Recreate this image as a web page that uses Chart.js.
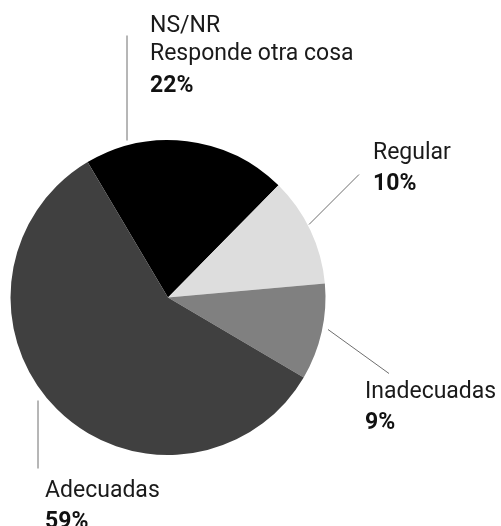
<!DOCTYPE html>
<html>
<head>
<meta charset="utf-8">
<script src="https://cdn.jsdelivr.net/npm/chart.js@4/dist/chart.umd.min.js"></script>
<style>
  html, body { margin: 0; padding: 0; background: #fff; }
  #wrap { width: 501px; height: 526px; }
</style>
</head>
<body>
<div id="wrap"><canvas id="chart" width="501" height="526"></canvas></div>
<script>
// datos
const categories = ['NS/NR\nResponde otra cosa', 'Regular', 'Inadecuadas', 'Adecuadas'];
const shares = [20.9, 11.2, 9.9, 58.0];          // tamaño de cada sector
const percentLabels = ['22%', '10%', '9%', '59%'];
const sliceColors = ['#000000', '#dddddd', '#808080', '#404040'];

// posición de etiquetas y líneas guía, relativas al centro del pastel
const labelLayout = [
  { line: [-41, -157, -41, -262], text: [-18, -266] },
  { line: [141, -73, 191, -123], text: [205, -139] },
  { line: [160, 32, 221, 76], text: [197, 100] },
  { line: [-130, 103, -130, 171], text: [-123, 199] },
];

const FONT = 'Roboto, "DejaVu Sans", sans-serif';

const labelsPlugin = {
  id: 'labelsPlugin',
  afterDraw(chart) {
    const ctx = chart.ctx;
    const arc = chart.getDatasetMeta(0).data[0];
    const cx = arc.x, cy = arc.y;
    ctx.save();
    labelLayout.forEach((l, i) => {
      ctx.strokeStyle = '#6e6e6e';
      ctx.lineWidth = 1;
      ctx.beginPath();
      ctx.moveTo(cx + l.line[0], cy + l.line[1]);
      ctx.lineTo(cx + l.line[2], cy + l.line[3]);
      ctx.stroke();

      const lines = categories[i].split('\n');
      let y = cy + l.text[1];
      const x = cx + l.text[0];
      ctx.textBaseline = 'alphabetic';
      ctx.textAlign = 'left';
      ctx.fillStyle = '#1a1a1a';
      ctx.font = '400 23px ' + FONT;
      lines.forEach((t) => {
        ctx.fillText(t, x, y);
        y += 28.5;
      });
      y += 3;
      ctx.fillStyle = '#111';
      ctx.font = 'bold 23px ' + FONT;
      ctx.fillText(percentLabels[i], x, y);
    });
    ctx.restore();
  }
};

new Chart(document.getElementById('chart'), {
  type: 'pie',
  data: {
    labels: categories,
    datasets: [{
      data: shares,
      backgroundColor: sliceColors,
      borderWidth: 0,
    }],
  },
  options: {
    responsive: false,
    animation: false,
    rotation: -30.7,
    layout: {
      padding: { left: 10, right: 175, top: 140, bottom: 71 },
    },
    plugins: {
      legend: { display: false },
      tooltip: { enabled: false },
    },
  },
  plugins: [labelsPlugin],
});
</script>
</body>
</html>
